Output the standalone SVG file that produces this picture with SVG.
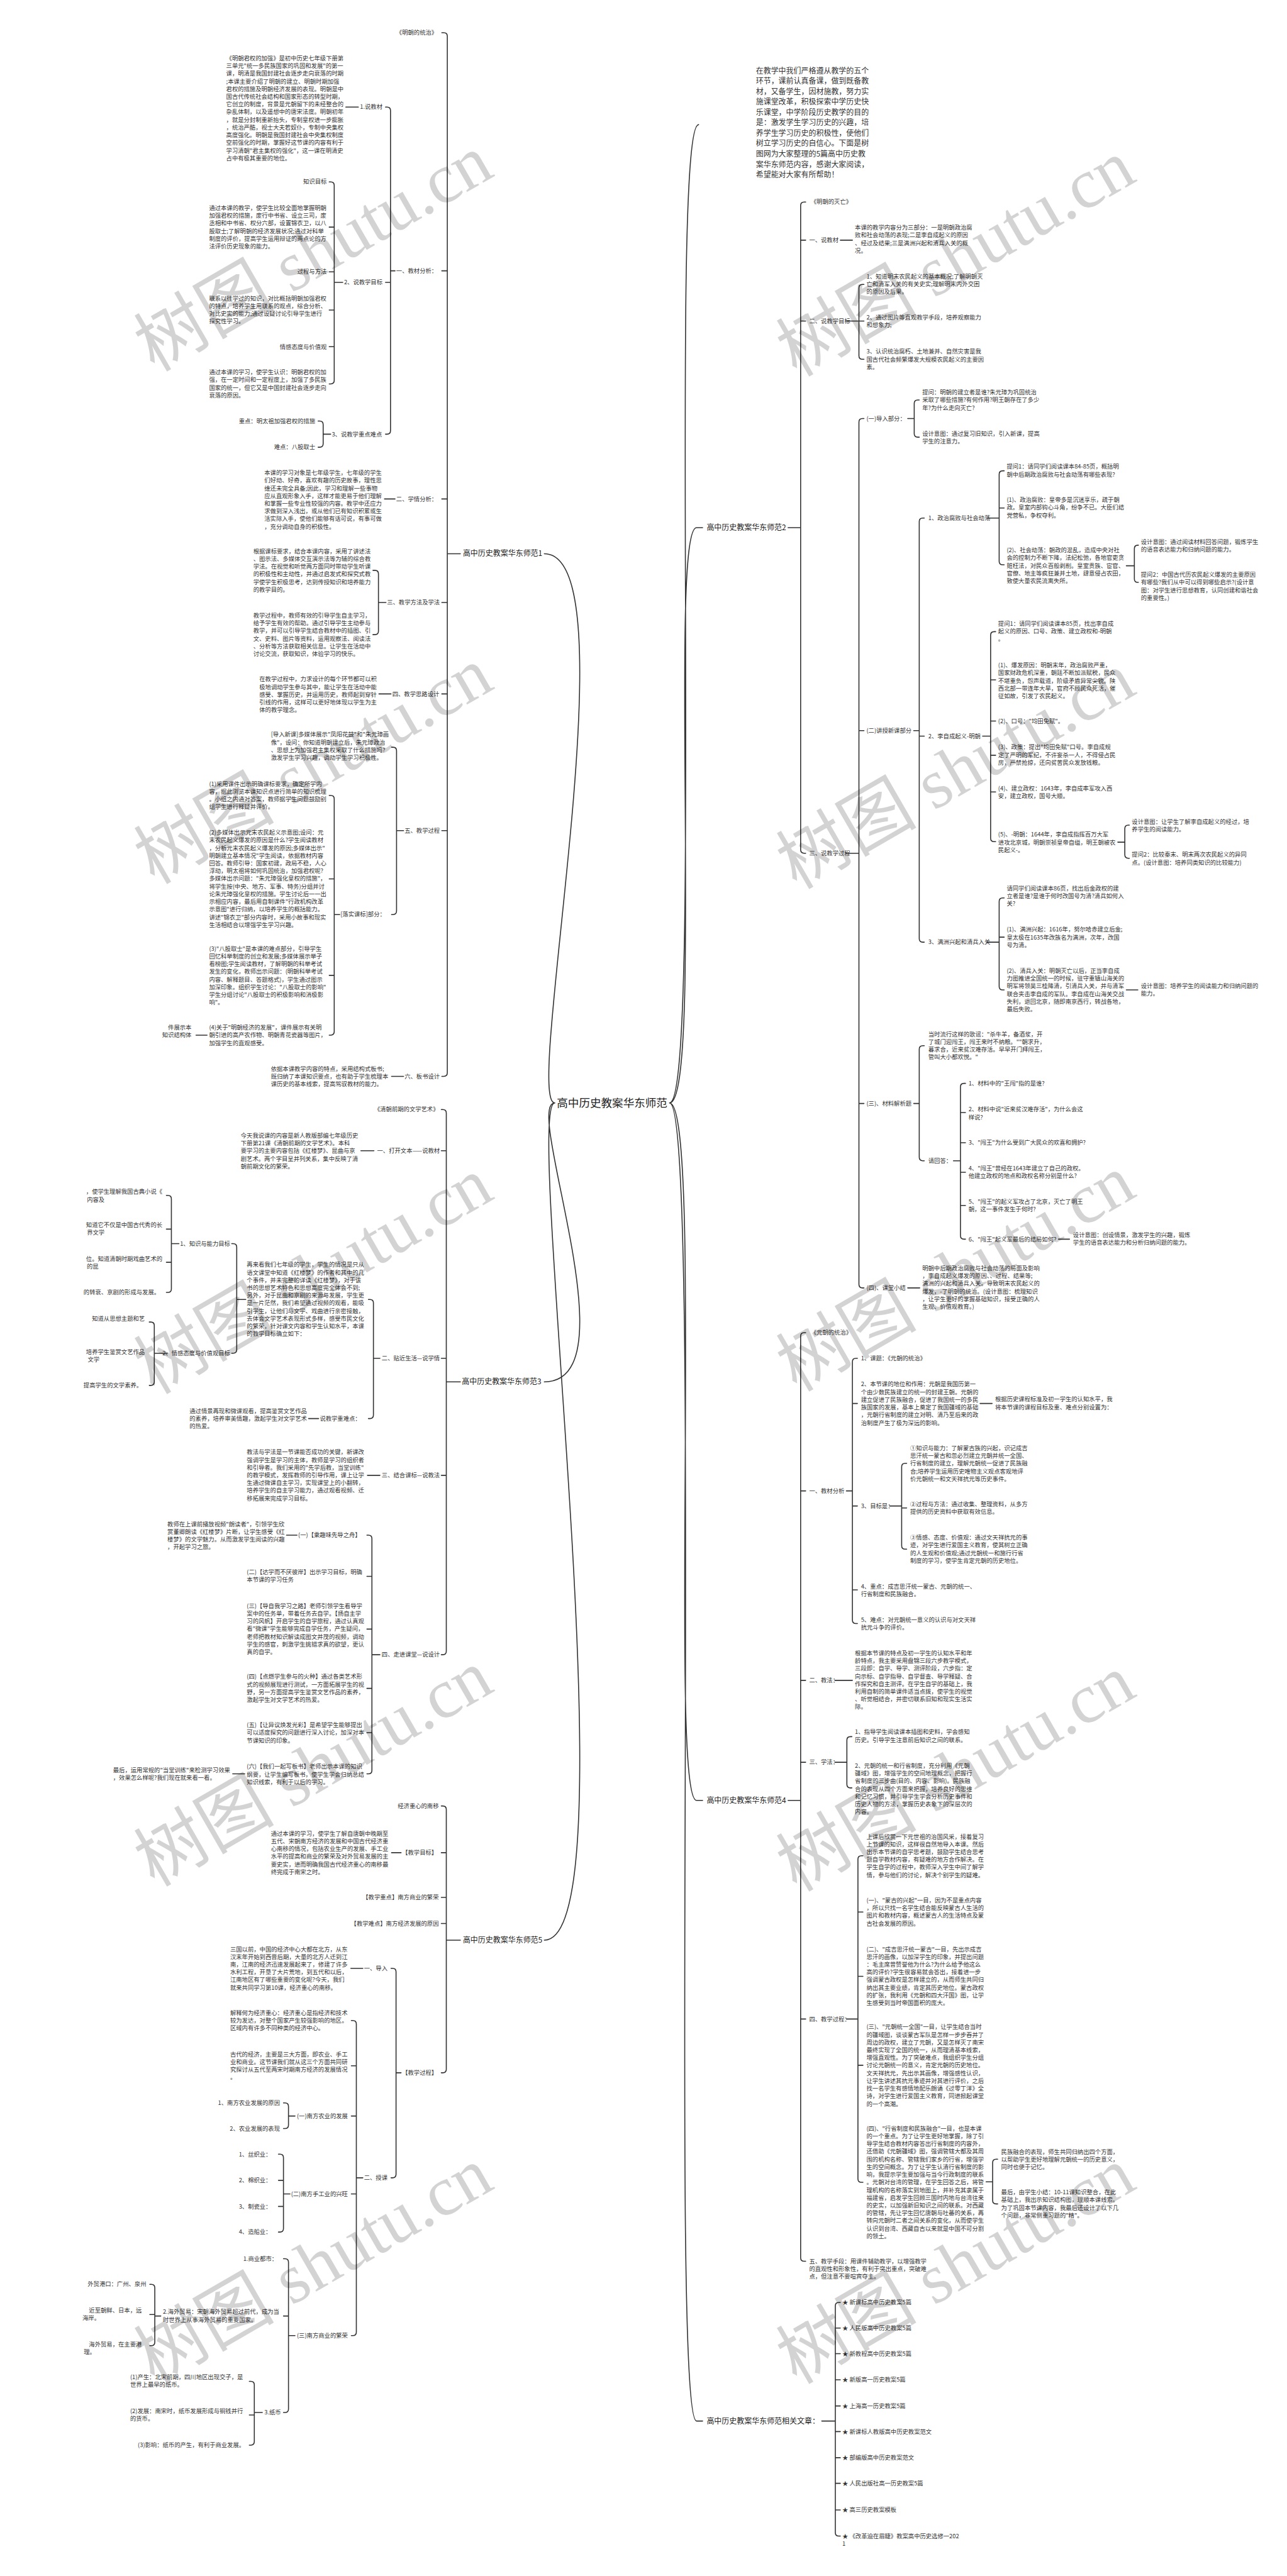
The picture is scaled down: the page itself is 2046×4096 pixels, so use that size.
<svg xmlns="http://www.w3.org/2000/svg" width="2046" height="4096" viewBox="0 0 2046 4096">
<style>
text{font-family:"Noto Sans CJK SC","Noto Sans",sans-serif;font-size:11.7px;fill:#333}
.e{text-anchor:end}
.b{font-size:15px;fill:#222}
.c{font-size:22px;fill:#222}
.p{font-size:15px}
.l{fill:none;stroke:#333;stroke-width:2;stroke-linecap:round}
.w{font-family:"Liberation Serif","Noto Sans CJK SC",serif;font-size:140px;fill:#000;opacity:.17}
</style>
<rect width="2046" height="4096" fill="#fff"/>
<g transform="scale(0.799)">
<g id="connectors" class="l">
<path d="M1083,1102C1260,1102 1040,2195 1104,2195M1083,2750C1260,2750 1040,2195 1104,2195M1083,3861C1260,3861 1040,2195 1104,2195"/>
<path d="M1332,2195C1400,2195 1330,248 1390,248M1332,2195C1400,2195 1330,1050 1386,1050H1398M1332,2195C1400,2195 1330,3583 1386,3583H1398M1332,2195C1400,2195 1330,4818 1386,4818H1398"/>
<path d="M879,65H883Q890,65 890,72V2135Q890,2142 883,2142H879M890,539H879M890,993H879M890,1199H879M890,1381H879M890,1653H879M890,1102H916"/>
<path d="M767,213H770Q777,213 777,220V857Q777,864 770,864H767M777,562H767M777,539H786"/>
<path d="M713,213H688"/>
<path d="M655,362H658Q665,362 665,369V757Q665,764 658,764H655M665,452H655M665,541H655M665,617H655M665,690H655M665,562H682"/>
<path d="M633,838H636Q643,838 643,845V883Q643,890 636,890H633M643,864H658"/>
<path d="M786,993H765M778,1381H754M803,2142H779"/>
<path d="M742,1135H746Q753,1135 753,1142V1256Q753,1263 746,1263H742M753,1199H768"/>
<path d="M779,1487H782Q789,1487 789,1494V1813Q789,1820 782,1820H779M789,1653H803"/>
<path d="M655,1583H658Q665,1583 665,1590V2053Q665,2060 658,2060H655M665,1749H655M665,1941H655M665,1820H676"/>
<path d="M412,2060H390"/>
<path d="M878,2208H881Q888,2208 888,2215V3286Q888,3293 881,3293H878M888,2290H878M888,2703H878M888,2936H878M888,2750H916"/>
<path d="M744,2290H718M634,2823H614M756,2936H731M591,3055H570M487,3530H463"/>
<path d="M733,2586H736Q743,2586 743,2593V2816Q743,2823 736,2823H733M743,2703H756"/>
<path d="M461,2475H464Q471,2475 471,2482V2686Q471,2693 464,2693H461M471,2586H489"/>
<path d="M331,2379H334Q341,2379 341,2386V2565Q341,2572 334,2572H331M341,2446H331M341,2512H331M341,2475H356"/>
<path d="M297,2631H300Q307,2631 307,2638V2750Q307,2757 300,2757H297M307,2693H333"/>
<path d="M730,3055H733Q740,3055 740,3062V3523Q740,3530 733,3530H730M740,3137H730M740,3242H730M740,3360H730M740,3448H730M740,3293H756"/>
<path d="M878,3594H881Q888,3594 888,3601V4118Q888,4125 881,4125H878M888,3687H878M888,3776H878M888,3828H878M888,3861H916"/>
<path d="M798,3687H779M722,3917H698"/>
<path d="M778,3917H781Q788,3917 788,3924V4327Q788,4334 781,4334H778M788,4125H798"/>
<path d="M699,4021H702Q709,4021 709,4028V4641Q709,4648 702,4648H699M709,4111H699M709,4211H699M709,4366H699M709,4334H722"/>
<path d="M564,4185H567Q574,4185 574,4192V4229Q574,4236 567,4236H564M574,4211H587"/>
<path d="M554,4287H557Q564,4287 564,4294V4435Q564,4442 557,4442H554M564,4339H554M564,4391H554M564,4366H577"/>
<path d="M564,4495H567Q574,4495 574,4502V4794Q574,4801 567,4801H564M574,4609H564M574,4648H587"/>
<path d="M298,4546H301Q308,4546 308,4553V4661Q308,4668 301,4668H298M308,4606H298M308,4609H320"/>
<path d="M496,4739H499Q506,4739 506,4746V4859Q506,4866 499,4866H496M506,4806H496M506,4801H522"/>
<path d="M1603,402H1600Q1593,402 1593,409V1691Q1593,1698 1600,1698H1603M1593,478H1603M1593,639H1603M1568,1050H1593"/>
<path d="M1672,478H1696M2241,1970H2264M2106,2466H2128M1806,2563H1830"/>
<path d="M1719,566H1716Q1709,566 1709,573V708Q1709,715 1716,715H1719M1709,639H1719M1684,639H1709"/>
<path d="M1719,833H1716Q1709,833 1709,840V2556Q1709,2563 1716,2563H1719M1709,1454H1719M1709,2196H1719M1684,1698H1709"/>
<path d="M1829,796H1826Q1819,796 1819,803V863Q1819,870 1826,870H1829M1806,833H1819"/>
<path d="M1839,1031H1836Q1829,1031 1829,1038V1868Q1829,1875 1836,1875H1839M1829,1465H1839M1818,1454H1829"/>
<path d="M1998,937H1995Q1988,937 1988,944V1117Q1988,1124 1995,1124H1998M1988,1011H1998M1963,1031H1988"/>
<path d="M2265,1085H2264Q2257,1085 2257,1092V1152Q2257,1159 2264,1159H2265M2241,1126H2257"/>
<path d="M1981,1257H1978Q1971,1257 1971,1264V1668Q1971,1675 1978,1675H1981M1971,1353H1981M1971,1435H1981M1971,1503H1981M1971,1576H1981M1955,1465H1971"/>
<path d="M2247,1642H2245Q2238,1642 2238,1649V1701Q2238,1708 2245,1708H2247M2224,1676H2238"/>
<path d="M1998,1787H1995Q1988,1787 1988,1794V1963Q1988,1970 1995,1970H1998M1988,1865H1998M1963,1875H1988"/>
<path d="M1839,2081H1836Q1829,2081 1829,2088V2303Q1829,2310 1836,2310H1839M1818,2196H1829"/>
<path d="M1921,2156H1918Q1911,2156 1911,2163V2459Q1911,2466 1918,2466H1921M1911,2214H1921M1911,2274H1921M1911,2333H1921M1911,2399H1921M1897,2310H1911"/>
<path d="M1603,2652H1600Q1593,2652 1593,2659V4493Q1593,4500 1600,4500H1603M1593,2967H1603M1593,3344H1603M1593,3507H1603M1593,4018H1603M1568,3583H1593"/>
<path d="M1706,2703H1703Q1696,2703 1696,2710V3224Q1696,3231 1703,3231H1706M1696,2793H1706M1696,2997H1706M1696,3164H1706M1684,2967H1696"/>
<path d="M1950,2793H1974M1661,3344H1696"/>
<path d="M1804,2912H1801Q1794,2912 1794,2919V3076Q1794,3083 1801,3083H1804M1794,3001H1804M1770,2997H1794"/>
<path d="M1695,3456H1692Q1685,3456 1685,3463V3551Q1685,3558 1692,3558H1695M1661,3507H1685"/>
<path d="M1717,3693H1714Q1707,3693 1707,3700V4336Q1707,4343 1714,4343H1717M1707,3805H1717M1707,3933H1717M1707,4110H1717M1684,4018H1707"/>
<path d="M1985,4297H1982Q1975,4297 1975,4304V4379Q1975,4386 1982,4386H1985M1962,4342H1975"/>
<path d="M1672,4582H1669Q1662,4582 1662,4589V5040Q1662,5047 1669,5047H1672M1662,4633H1672M1662,4684H1672M1662,4736H1672M1662,4788H1672M1662,4839H1672M1662,4891H1672M1662,4942H1672M1662,4995H1672M1635,4818H1662"/>
</g>

<g id="center"><text class="c" x="1108" y="2203">高中历史教案华东师范</text></g>
<g id="intro"><text class="p" x="1504" y="146"><tspan>在教学中我们严格遵从教学的五个</tspan><tspan x="1504" dy="20.7">环节，课前认真备课，做到既备教</tspan><tspan x="1504" dy="20.7">材，又备学生，因材施教，努力实</tspan><tspan x="1504" dy="20.7">施课堂改革，积极探索中学历史快</tspan><tspan x="1504" dy="20.7">乐课堂，中学阶段历史教学的目的</tspan><tspan x="1504" dy="20.7">是：激发学生学习历史的兴趣，培</tspan><tspan x="1504" dy="20.7">养学生学习历史的积极性，使他们</tspan><tspan x="1504" dy="20.7">树立学习历史的自信心。下面是树</tspan><tspan x="1504" dy="20.7">图网为大家整理的5篇高中历史教</tspan><tspan x="1504" dy="20.7">案华东师范内容，感谢大家阅读，</tspan><tspan x="1504" dy="20.7">希望能对大家有所帮助！</tspan></text></g>

<!-- Branch 1 -->
<g id="b1"><text class="b" x="921" y="1107">高中历史教案华东师范1</text></g>
<g id="b1-0"><text class="e" x="870" y="69">《明朝的统治》</text></g>
<g id="b1-1"><text class="e" x="870" y="543">一、教材分析：</text></g>
<g id="b1-1-1"><text class="e" x="761" y="217">1.说教材</text></g>
<g id="b1-1-1-p"><text x="450" y="120"><tspan>《明朝君权的加强》是初中历史七年级下册第</tspan><tspan x="450" dy="15.3">三单元"统一多民族国家的巩固和发展"的第一</tspan><tspan x="450" dy="15.3">课，明清是我国封建社会逐步走向衰落的时期</tspan><tspan x="450" dy="15.3">;本课主要介绍了明朝的建立、明朝时期加强</tspan><tspan x="450" dy="15.3">君权的措施及明朝经济发展的表现。明朝是中</tspan><tspan x="450" dy="15.3">国古代传统社会结构和国家形态的转型时期，</tspan><tspan x="450" dy="15.3">它创立的制度，背景是元朝留下的未经整合的</tspan><tspan x="450" dy="15.3">杂乱体制，以及遥想中的唐宋法度。明朝初年</tspan><tspan x="450" dy="15.3">，就是分封制重新抬头，专制皇权进一步膨胀</tspan><tspan x="450" dy="15.3">，统治严酷，视士大夫若奴仆，专制中央集权</tspan><tspan x="450" dy="15.3">高度强化。明朝是我国封建社会中央集权制度</tspan><tspan x="450" dy="15.3">空前强化的时期，掌握好这节课的内容有利于</tspan><tspan x="450" dy="15.3">学习清朝"君主集权的强化"，这一课在明清史</tspan><tspan x="450" dy="15.3">占中有极其重要的地位。</tspan></text></g>
<g id="b1-1-2"><text class="e" x="761" y="566">2、说教学目标</text></g>
<g id="b1-1-2-a"><text class="e" x="650" y="366">知识目标</text></g>
<g id="b1-1-2-b"><text x="416" y="418"><tspan>通过本课的教学，使学生比较全面地掌握明朝</tspan><tspan x="416" dy="15.3">加强君权的措施，废行中书省、设立三司，废</tspan><tspan x="416" dy="15.3">丞相和中书省、权分六部，设置锦衣卫，以八</tspan><tspan x="416" dy="15.3">股取士;了解明朝的经济发展状况;通过对科举</tspan><tspan x="416" dy="15.3">制度的评价，提高学生运用辩证的两点论的方</tspan><tspan x="416" dy="15.3">法评价历史现象的能力。</tspan></text></g>
<g id="b1-1-2-c"><text class="e" x="650" y="545">过程与方法</text></g>
<g id="b1-1-2-d"><text x="416" y="598"><tspan>联系以往学过的知识，对比概括明朝加强君权</tspan><tspan x="416" dy="15.3">的特点，培养学生用联系的观点，综合分析、</tspan><tspan x="416" dy="15.3">对比史实的能力;通过设疑讨论引导学生进行</tspan><tspan x="416" dy="15.3">探究性学习。</tspan></text></g>
<g id="b1-1-2-e"><text class="e" x="650" y="694">情感态度与价值观</text></g>
<g id="b1-1-2-f"><text x="416" y="745"><tspan>通过本课的学习，使学生认识：明朝君权的加</tspan><tspan x="416" dy="15.3">强，在一定时间和一定程度上，加强了多民族</tspan><tspan x="416" dy="15.3">国家的统一，但它又是中国封建社会逐步走向</tspan><tspan x="416" dy="15.3">衰落的原因。</tspan></text></g>
<g id="b1-1-3"><text class="e" x="760" y="868">3、说教学重点难点</text></g>
<g id="b1-1-3-a"><text class="e" x="627" y="842">重点：明太祖加强君权的措施</text></g>
<g id="b1-1-3-b"><text class="e" x="627" y="894">难点：八股取士</text></g>
<g id="b1-2"><text class="e" x="870" y="997">二、学情分析：</text></g>
<g id="b1-2-p"><text x="526" y="945"><tspan>本课的学习对象是七年级学生，七年级的学生</tspan><tspan x="526" dy="15.3">们好动、好奇，喜欢有趣的历史故事，理性思</tspan><tspan x="526" dy="15.3">维还未完全具备;因此，学习和理解一些事物</tspan><tspan x="526" dy="15.3">应从直观形象入手，这样才能更易于他们理解</tspan><tspan x="526" dy="15.3">和掌握一些专业性较强的内容。教学中还应力</tspan><tspan x="526" dy="15.3">求做到深入浅出，或从他们已有知识积累或生</tspan><tspan x="526" dy="15.3">活实际入手，使他们能够有话可说，有事可做</tspan><tspan x="526" dy="15.3">，充分调动自身的积极性。</tspan></text></g>
<g id="b1-3"><text class="e" x="875" y="1203">三、教学方法及学法</text></g>
<g id="b1-3-a"><text x="504" y="1101"><tspan>根据课标要求，结合本课内容，采用了讲述法</tspan><tspan x="504" dy="15.3">、图示法、多媒体交互演示法等为辅的综合教</tspan><tspan x="504" dy="15.3">学法。在视觉和听觉两方面同时带动学生听课</tspan><tspan x="504" dy="15.3">的积极性和主动性，并通过启发式和探究式教</tspan><tspan x="504" dy="15.3">学使学生积极思考，达到传授知识和培养能力</tspan><tspan x="504" dy="15.3">的教学目的。</tspan></text></g>
<g id="b1-3-b"><text x="504" y="1229"><tspan>教学过程中，教师有效的引导学生自主学习，</tspan><tspan x="504" dy="15.3">给予学生有效的帮助。通过引导学生主动参与</tspan><tspan x="504" dy="15.3">教学，并可以引导学生结合教材中的插图、引</tspan><tspan x="504" dy="15.3">文、史料、图片等资料，运用观察法、阅读法</tspan><tspan x="504" dy="15.3">、分析等方法获取相关信息。让学生在活动中</tspan><tspan x="504" dy="15.3">讨论交流，获取知识，体验学习的快乐。</tspan></text></g>
<g id="b1-4"><text class="e" x="874" y="1385">四、教学思路设计</text></g>
<g id="b1-4-p"><text x="516" y="1356"><tspan>在教学过程中，力求设计的每个环节都可以积</tspan><tspan x="516" dy="15.3">极地调动学生参与其中，能让学生在活动中能</tspan><tspan x="516" dy="15.3">感受、掌握历史，并运用历史，教师起到穿针</tspan><tspan x="516" dy="15.3">引线的作用，这样可以更好地体现以学生为主</tspan><tspan x="516" dy="15.3">体的教学理念。</tspan></text></g>
<g id="b1-5"><text class="e" x="875" y="1657">五、教学过程</text></g>
<g id="b1-5-a"><text x="539" y="1466"><tspan>[导入新课]多媒体展示"凤阳花鼓"和"朱元璋画</tspan><tspan x="539" dy="15.3">像"，设问：你知道明朝建立后，朱元璋政治</tspan><tspan x="539" dy="15.3">、思想上为加强君主集权采取了什么措施吗?</tspan><tspan x="539" dy="15.3">激发学生学习兴趣，调动学生学习积极性。</tspan></text></g>
<g id="b1-5-b"><text class="e" x="767" y="1824">[落实课标]部分：</text></g>
<g id="b1-5-b1"><text x="416" y="1564"><tspan>(1)采用课件出示明确课标要求，确定所学内</tspan><tspan x="416" dy="15.3">容，据此浏览本课知识点进行简单的知识梳理</tspan><tspan x="416" dy="15.3">。小组之内通对答案，教师据学生问题鼓励别</tspan><tspan x="416" dy="15.3">组学生进行释疑并评价。</tspan></text></g>
<g id="b1-5-b2"><text x="416" y="1661"><tspan>(2)多媒体出示元末农民起义示意图;设问：元</tspan><tspan x="416" dy="15.3">末农民起义爆发的原因是什么?学生阅读教材</tspan><tspan x="416" dy="15.3">，分析元末农民起义爆发的原因;多媒体出示"</tspan><tspan x="416" dy="15.3">明朝建立基本情况"学生阅读，依据教材内容</tspan><tspan x="416" dy="15.3">回答。教师引导：国家初建，政局不稳，人心</tspan><tspan x="416" dy="15.3">浮动，明太祖将如何巩固统治，加强君权呢?</tspan><tspan x="416" dy="15.3">多媒体出示问题："朱元璋强化皇权的措施"，</tspan><tspan x="416" dy="15.3">将学生按(中央、地方、军事、特务)分组并讨</tspan><tspan x="416" dy="15.3">论朱元璋强化皇权的措施。学生讨论后一一出</tspan><tspan x="416" dy="15.3">示相应内容，最后用自制课件"行政机构改革</tspan><tspan x="416" dy="15.3">示意图"进行归纳，以培养学生的概括能力。</tspan><tspan x="416" dy="15.3">讲述"锦衣卫"部分内容时，采用小故事和现实</tspan><tspan x="416" dy="15.3">生活相结合以增强学生学习兴趣。</tspan></text></g>
<g id="b1-5-b3"><text x="416" y="1892"><tspan>(3)"八股取士"是本课的难点部分，引导学生</tspan><tspan x="416" dy="15.3">回忆科举制度的创立和发展;多媒体展示举子</tspan><tspan x="416" dy="15.3">看榜图;学生阅读教材，了解明朝的科举考试</tspan><tspan x="416" dy="15.3">发生的变化，教师出示问题：(明朝科举考试</tspan><tspan x="416" dy="15.3">内容、解释题目、答题格式)，学生通过图示</tspan><tspan x="416" dy="15.3">加深印象。组织学生讨论："八股取士的影响"</tspan><tspan x="416" dy="15.3">学生分组讨论"八股取士的积极影响和消极影</tspan><tspan x="416" dy="15.3">响"。</tspan></text></g>
<g id="b1-5-b4"><text x="416" y="2049"><tspan>(4)关于"明朝经济的发展"，课件展示有关明</tspan><tspan x="416" dy="15.3">朝引进的高产农作物、明朝青花瓷器等图片，</tspan><tspan x="416" dy="15.3">加强学生的直观感受。</tspan></text></g>
<g id="b1-5-b4-a"><text class="e" x="381" y="2049"><tspan>件展示本</tspan><tspan x="381" dy="15.3">知识结构体</tspan></text></g>
<g id="b1-6"><text class="e" x="875" y="2146">六、板书设计</text></g>
<g id="b1-6-p"><text x="539" y="2131"><tspan>依据本课教学内容的特点，采用结构式板书;</tspan><tspan x="539" dy="15.3">既归纳了本课知识要点，也有助于学生梳理本</tspan><tspan x="539" dy="15.3">课历史的基本线索，提高驾驭教材的能力。</tspan></text></g>

<!-- Branch 3 -->
<g id="b3"><text class="b" x="919" y="2755">高中历史教案华东师范3</text></g>
<g id="b3-0"><text class="e" x="873" y="2212">《清朝前期的文学艺术》</text></g>
<g id="b3-1"><text class="e" x="875" y="2294">一、打开文本——说教材</text></g>
<g id="b3-1-p"><text x="479" y="2264"><tspan>今天我说课的内容是新人教版部编七年级历史</tspan><tspan x="479" dy="15.3">下册第21课《清朝前期的文学艺术》。本科</tspan><tspan x="479" dy="15.3">要学习的主要内容包括《红楼梦》、昆曲与京</tspan><tspan x="479" dy="15.3">剧艺术。两个字目呈并列关系，集中反映了清</tspan><tspan x="479" dy="15.3">朝前期文化的繁荣。</tspan></text></g>
<g id="b3-2"><text class="e" x="875" y="2707">二、贴近生活—说学情</text></g>
<g id="b3-2-p"><text x="491" y="2521"><tspan>再来看我们七年级的学生，学生的情况是只从</tspan><tspan x="491" dy="15.3">语文课堂中知道《红楼梦》的作者和其中的几</tspan><tspan x="491" dy="15.3">个事件，并未完整的详读《红楼梦》，对于该</tspan><tspan x="491" dy="15.3">书的思想艺术特色和思想高度完全体会不到;</tspan><tspan x="491" dy="15.3">另外，对于昆曲和京剧的来源与发展，学生更</tspan><tspan x="491" dy="15.3">是一片茫然，我们希望通过视频的观看，能吸</tspan><tspan x="491" dy="15.3">引学生，让他们与文学、戏曲进行亲密接触，</tspan><tspan x="491" dy="15.3">去体会文学艺术表现形式多样，感受市民文化</tspan><tspan x="491" dy="15.3">的繁荣。针对课文内容和学生认知水平，本课</tspan><tspan x="491" dy="15.3">的教学目标确立如下：</tspan></text></g>
<g id="b3-2-g1"><text class="e" x="458" y="2479">1、知识与能力目标</text></g>
<g id="b3-2-g1-a"><text class="e" x="323" y="2376"><tspan>，使学生理解我国古典小说《</tspan><tspan x="208" dy="15.3">内容及</tspan></text></g>
<g id="b3-2-g1-b"><text class="e" x="323" y="2442"><tspan>知道它不仅是中国古代秀的长</tspan><tspan x="208" dy="15.3">界文学</tspan></text></g>
<g id="b3-2-g1-c"><text class="e" x="323" y="2509"><tspan>位。知道清朝时期戏曲艺术的</tspan><tspan x="196" dy="15.3">的昆</tspan></text></g>
<g id="b3-2-g1-d"><text class="e" x="318" y="2576">的转衰、京剧的形成与发展。</text></g>
<g id="b3-2-g2"><text class="e" x="458" y="2697">2、情感态度与价值观目标</text></g>
<g id="b3-2-g2-a"><text class="e" x="288" y="2628">知道从思想主题和艺</text></g>
<g id="b3-2-g2-b"><text class="e" x="288" y="2694"><tspan>培养学生鉴赏文艺作品</tspan><tspan x="198" dy="15.3">文学</tspan></text></g>
<g id="b3-2-g2-c"><text class="e" x="283" y="2761">提高学生的文学素养。</text></g>
<g id="b3-2-k"><text class="e" x="718" y="2827">说教学重难点：</text></g>
<g id="b3-2-k-p"><text x="377" y="2812"><tspan>通过情景再现和微课观看，提高鉴赏文艺作品</tspan><tspan x="377" dy="15.3">的素养，培养审美情趣，激起学生对文学艺术</tspan><tspan x="377" dy="15.3">的热爱。</tspan></text></g>
<g id="b3-3"><text class="e" x="875" y="2940">三、结合课标—说教法</text></g>
<g id="b3-3-p"><text x="491" y="2894"><tspan>教法与学法是一节课能否成功的关键，新课改</tspan><tspan x="491" dy="15.3">强调学生是学习的主体，教师是学习的组织者</tspan><tspan x="491" dy="15.3">和引导者。我们采用的"先学后教，当堂训练"</tspan><tspan x="491" dy="15.3">的教学模式，发挥教师的引导作用，课上让学</tspan><tspan x="491" dy="15.3">生通过微课自主学习，实现课堂上的小翻转，</tspan><tspan x="491" dy="15.3">培养学生的自主学习能力，通过观看视频、迁</tspan><tspan x="491" dy="15.3">移拓展来完成学习目标。</tspan></text></g>
<g id="b3-4"><text class="e" x="875" y="3297">四、走进课堂—说设计</text></g>
<g id="b3-4-1"><text class="e" x="718" y="3059">(一)【乘趣味先导之舟】</text></g>
<g id="b3-4-1-p"><text x="333" y="3037"><tspan>教师在上课前播放视频"朗读者"，引领学生欣</tspan><tspan x="333" dy="15.3">赏董卿朗读《红楼梦》片断，让学生感受《红</tspan><tspan x="333" dy="15.3">楼梦》的文学魅力。从而激发学生阅读的兴趣</tspan><tspan x="333" dy="15.3">，开起学习之旅。</tspan></text></g>
<g id="b3-4-2"><text x="491" y="3133"><tspan>(二)【达学而不厌彼岸】出示学习目标，明确</tspan><tspan x="491" dy="15.3">本节课的学习任务</tspan></text></g>
<g id="b3-4-3"><text x="491" y="3200"><tspan>(三)【导自我学习之路】老师引领学生看导学</tspan><tspan x="491" dy="15.3">案中的任务单，带着任务去自学。【扬自主学</tspan><tspan x="491" dy="15.3">习的风帆】开启学生的自学旅程，通过认真观</tspan><tspan x="491" dy="15.3">看"微课"学生能够完成自学任务，产生疑问，</tspan><tspan x="491" dy="15.3">老师把教材知识解读成图文并茂的视频，调动</tspan><tspan x="491" dy="15.3">学生的感官，刺激学生挑错求真的欲望，更认</tspan><tspan x="491" dy="15.3">真的自学。</tspan></text></g>
<g id="b3-4-4"><text x="491" y="3341"><tspan>(四)【点燃学生参与的火种】通过各类艺术形</tspan><tspan x="491" dy="15.3">式的视频展现进行测试，一方面拓展学生的视</tspan><tspan x="491" dy="15.3">野，另一方面提高学生鉴赏文艺作品的素养，</tspan><tspan x="491" dy="15.3">激起学生对文学艺术的热爱。</tspan></text></g>
<g id="b3-4-5"><text x="491" y="3437"><tspan>(五)【让异议焕发光彩】是希望学生能够提出</tspan><tspan x="491" dy="15.3">可以适度探究的问题进行深入讨论，加深对本</tspan><tspan x="491" dy="15.3">节课知识的印象。</tspan></text></g>
<g id="b3-4-6"><text x="491" y="3520"><tspan>(六)【我们一起写板书】老师出示本课的知识</tspan><tspan x="491" dy="15.3">纲要，让学生编写板书，使学生学会归纳总结</tspan><tspan x="491" dy="15.3">知识线索，有利于以后的学习。</tspan></text></g>
<g id="b3-4-6-a"><text x="225" y="3527"><tspan>最后，运用常规的"当堂训练"来检测学习效果</tspan><tspan x="225" dy="15.3">，效果怎么样呢?我们现在就来看一看。</tspan></text></g>

<!-- Branch 5 -->
<g id="b5"><text class="b" x="921" y="3866">高中历史教案华东师范5</text></g>
<g id="b5-0"><text class="e" x="873" y="3598">经济重心的南移</text></g>
<g id="b5-1"><text class="e" x="870" y="3691">【教学目标】</text></g>
<g id="b5-1-p"><text x="539" y="3653"><tspan>通过本课的学习，使学生了解自唐朝中晚期至</tspan><tspan x="539" dy="15.3">五代、宋朝南方经济的发展和中国古代经济重</tspan><tspan x="539" dy="15.3">心南移的情况，包括农业生产的发展、手工业</tspan><tspan x="539" dy="15.3">水平的提高和商业的繁荣及对外贸易发展的主</tspan><tspan x="539" dy="15.3">要史实，进而明确我国古代经济重心的南移最</tspan><tspan x="539" dy="15.3">终完成于南宋之时。</tspan></text></g>
<g id="b5-2"><text class="e" x="873" y="3780">【教学重点】南方商业的繁荣</text></g>
<g id="b5-3"><text class="e" x="873" y="3832">【教学难点】南方经济发展的原因</text></g>
<g id="b5-4"><text class="e" x="870" y="4129">【教学过程】</text></g>
<g id="b5-4-1"><text class="e" x="771" y="3921">一、导入</text></g>
<g id="b5-4-1-p"><text x="458" y="3883"><tspan>三国以前，中国的经济中心大都在北方，从东</tspan><tspan x="458" dy="15.3">汉末年开始到西晋后期，大量的北方人迁到江</tspan><tspan x="458" dy="15.3">南，江南的经济迅速发展起来了，修建了许多</tspan><tspan x="458" dy="15.3">水利工程，开垦了大片荒地，到五代和以后，</tspan><tspan x="458" dy="15.3">江南地区有了哪些重要的变化呢?今天，我们</tspan><tspan x="458" dy="15.3">就来共同学习第10课，经济重心的南移。</tspan></text></g>
<g id="b5-4-2"><text class="e" x="771" y="4338">二、授课</text></g>
<g id="b5-4-2-a"><text x="458" y="4010"><tspan>解释何为经济重心：经济重心是指经济和技术</tspan><tspan x="458" dy="15.3">较为发达，对整个国家产生较强影响的地区。</tspan><tspan x="458" dy="15.3">区域内有许多不同种类的经济中心。</tspan></text></g>
<g id="b5-4-2-b"><text x="458" y="4092"><tspan>古代的经济，主要是三大方面，即农业、手工</tspan><tspan x="458" dy="15.3">业和商业。这节课我们就从这三个方面共同研</tspan><tspan x="458" dy="15.3">究探讨从五代至两宋时期南方经济的发展情况</tspan><tspan x="458" dy="15.3">。</tspan></text></g>
<g id="b5-4-2-c"><text class="e" x="692" y="4215">(一)南方农业的发展</text></g>
<g id="b5-4-2-c1"><text class="e" x="557" y="4189">1、南方农业发展的原因</text></g>
<g id="b5-4-2-c2"><text class="e" x="557" y="4240">2、农业发展的表现</text></g>
<g id="b5-4-2-d"><text class="e" x="692" y="4370">(二)南方手工业的兴旺</text></g>
<g id="b5-4-2-d1"><text class="e" x="540" y="4291">1、丝织业：</text></g>
<g id="b5-4-2-d2"><text class="e" x="540" y="4343">2、棉织业：</text></g>
<g id="b5-4-2-d3"><text class="e" x="540" y="4395">3、制瓷业：</text></g>
<g id="b5-4-2-d4"><text class="e" x="540" y="4446">4、造船业：</text></g>
<g id="b5-4-2-e"><text class="e" x="692" y="4652">(三)南方商业的繁荣</text></g>
<g id="b5-4-2-e1"><text class="e" x="552" y="4499">1.商业都市：</text></g>
<g id="b5-4-2-e2"><text x="324" y="4605"><tspan>2.海外贸易：宋朝海外贸易超过前代，成为当</tspan><tspan x="324" dy="15.3">时世界上从事海外贸易的重要国家。</tspan></text></g>
<g id="b5-4-2-e2a"><text class="e" x="291" y="4550">外贸港口：广州、泉州</text></g>
<g id="b5-4-2-e2b"><text class="e" x="282" y="4602"><tspan>近至朝鲜、日本，远</tspan><tspan x="199" dy="15.3">海岸。</tspan></text></g>
<g id="b5-4-2-e2c"><text class="e" x="282" y="4669"><tspan>海外贸易，在主要港</tspan><tspan x="190" dy="15.3">理。</tspan></text></g>
<g id="b5-4-2-e3"><text class="e" x="559" y="4805">3.纸币</text></g>
<g id="b5-4-2-e3a"><text x="259" y="4735"><tspan>(1)产生：北宋前期，四川地区出现交子，是</tspan><tspan x="259" dy="15.3">世界上最早的纸币。</tspan></text></g>
<g id="b5-4-2-e3b"><text x="259" y="4802"><tspan>(2)发展：南宋时，纸币发展形成与铜钱并行</tspan><tspan x="259" dy="15.3">的货币。</tspan></text></g>
<g id="b5-4-2-e3c"><text class="e" x="487" y="4870">(3)影响：纸币的产生，有利于商业发展。</text></g>

<!-- Branch 2 -->
<g id="b2"><text class="b" x="1406" y="1055">高中历史教案华东师范2</text></g>
<g id="b2-0"><text x="1613" y="406">《明朝的灭亡》</text></g>
<g id="b2-1"><text x="1610" y="482">一、说教材</text></g>
<g id="b2-1-p"><text x="1701" y="457"><tspan>本课的教学内容分为三部分：一是明朝政治腐</tspan><tspan x="1701" dy="15.3">败和社会动荡的表现;二是李自成起义的原因</tspan><tspan x="1701" dy="15.3">、经过及结果;三是满洲兴起和清兵入关的概</tspan><tspan x="1701" dy="15.3">况。</tspan></text></g>
<g id="b2-2"><text x="1610" y="643">二、说教学目标</text></g>
<g id="b2-2-a"><text x="1724" y="554"><tspan>1、知道明末农民起义的基本概况;了解明朝灭</tspan><tspan x="1724" dy="15.3">亡和清军入关的有关史实;理解明末内外交困</tspan><tspan x="1724" dy="15.3">的原因及后果。</tspan></text></g>
<g id="b2-2-b"><text x="1724" y="636"><tspan>2、通过图片等直观教学手段，培养观察能力</tspan><tspan x="1724" dy="15.3">和想象力;</tspan></text></g>
<g id="b2-2-c"><text x="1724" y="704"><tspan>3、认识统治腐朽、土地兼并、自然灾害是我</tspan><tspan x="1724" dy="15.3">国古代社会频繁爆发大规模农民起义的主要因</tspan><tspan x="1724" dy="15.3">素。</tspan></text></g>
<g id="b2-3"><text x="1610" y="1702">三、说教学过程</text></g>
<g id="b2-3-1"><text x="1724" y="837">(一)导入部分：</text></g>
<g id="b2-3-1-a"><text x="1835" y="785"><tspan>提问：明朝的建立者是谁?朱元璋为巩固统治</tspan><tspan x="1835" dy="15.3">采取了哪些措施?有何作用?明王朝存在了多少</tspan><tspan x="1835" dy="15.3">年?为什么走向灭亡?</tspan></text></g>
<g id="b2-3-1-b"><text x="1835" y="867"><tspan>设计意图：通过复习旧知识，引入新课，提高</tspan><tspan x="1835" dy="15.3">学生的注意力。</tspan></text></g>
<g id="b2-3-2"><text x="1724" y="1458">(二)讲授新课部分</text></g>
<g id="b2-3-2-1"><text x="1847" y="1035">1、政治腐败与社会动荡</text></g>
<g id="b2-3-2-1a"><text x="2003" y="933"><tspan>提问1：请同学们阅读课本84-85页，概括明</tspan><tspan x="2003" dy="15.3">朝中后期政治腐败与社会动荡有哪些表现?</tspan></text></g>
<g id="b2-3-2-1b"><text x="2003" y="999"><tspan>(1)、政治腐败：皇帝多是沉迷享乐，疏于朝</tspan><tspan x="2003" dy="15.3">政。皇室内部钩心斗角，纷争不已。大臣们结</tspan><tspan x="2003" dy="15.3">党营私，争权夺利。</tspan></text></g>
<g id="b2-3-2-1c"><text x="2003" y="1099"><tspan>(2)、社会动荡：朝政的混乱，造成中央对社</tspan><tspan x="2003" dy="15.3">会的控制力不断下降，法纪松弛，各地官吏贪</tspan><tspan x="2003" dy="15.3">赃枉法，对民众百般剥削。皇室贵族、宦官、</tspan><tspan x="2003" dy="15.3">官僚、地主等疯狂兼并土地，肆意侵占农田，</tspan><tspan x="2003" dy="15.3">致使大量农民流离失所。</tspan></text></g>
<g id="b2-3-2-1c1"><text x="2270" y="1082"><tspan>设计意图：通过阅读材料回答问题，锻炼学生</tspan><tspan x="2270" dy="15.3">的语音表达能力和归纳问题的能力。</tspan></text></g>
<g id="b2-3-2-1c2"><text x="2270" y="1148"><tspan>提问2：中国古代历农民起义爆发的主要原因</tspan><tspan x="2270" dy="15.3">有哪些?我们从中可以得到哪些启示?(设计意</tspan><tspan x="2270" dy="15.3">图：对学生进行思想教育，认同创建和谐社会</tspan><tspan x="2270" dy="15.3">的重要性。)</tspan></text></g>
<g id="b2-3-2-2"><text x="1847" y="1469">2、李自成起义-明朝</text></g>
<g id="b2-3-2-2a"><text x="1986" y="1245"><tspan>提问1：请同学们阅读课本85页，找出李自成</tspan><tspan x="1986" dy="15.3">起义的原因、口号、政策、建立政权和-明朝</tspan><tspan x="1986" dy="15.3">。</tspan></text></g>
<g id="b2-3-2-2b"><text x="1986" y="1328"><tspan>(1)、爆发原因：明朝末年，政治腐败严重，</tspan><tspan x="1986" dy="15.3">国家财政危机深重，朝廷不断加派赋税，民众</tspan><tspan x="1986" dy="15.3">不堪重负，怨声载道，阶级矛盾异常尖锐。陕</tspan><tspan x="1986" dy="15.3">西北部一带连年大旱，官府不顾民众死活，催</tspan><tspan x="1986" dy="15.3">征如故，引发了农民起义。</tspan></text></g>
<g id="b2-3-2-2c"><text x="1986" y="1439">(2)、口号："均田免赋"。</text></g>
<g id="b2-3-2-2d"><text x="1986" y="1491"><tspan>(3)、政策：提出"均田免赋"口号。李自成规</tspan><tspan x="1986" dy="15.3">定了严明的军纪，不许妄杀一人，不得侵占民</tspan><tspan x="1986" dy="15.3">房，严禁抢掠，还向贫苦民众发放钱粮。</tspan></text></g>
<g id="b2-3-2-2e"><text x="1986" y="1573"><tspan>(4)、建立政权：1643年，李自成率军攻入西</tspan><tspan x="1986" dy="15.3">安，建立政权，国号大顺。</tspan></text></g>
<g id="b2-3-2-2f"><text x="1986" y="1665"><tspan>(5)、-明朝：1644年，李自成指挥百万大军</tspan><tspan x="1986" dy="15.3">进攻北京城，明朝崇祯皇帝自缢，明王朝被农</tspan><tspan x="1986" dy="15.3">民起义-。</tspan></text></g>
<g id="b2-3-2-2f1"><text x="2252" y="1639"><tspan>设计意图：让学生了解李自成起义的经过，培</tspan><tspan x="2252" dy="15.3">养学生的阅读能力。</tspan></text></g>
<g id="b2-3-2-2f2"><text x="2252" y="1705"><tspan>提问2：比较秦末、明末两次农民起义的异同</tspan><tspan x="2252" dy="15.3">点。(设计意图：培养同类知识的比较能力)</tspan></text></g>
<g id="b2-3-2-3"><text x="1847" y="1879">3、满洲兴起和清兵入关</text></g>
<g id="b2-3-2-3a"><text x="2003" y="1772"><tspan>请同学们阅读课本86页，找出后金政权的建</tspan><tspan x="2003" dy="15.3">立者是谁?是谁于何时改国号为清?清兵如何入</tspan><tspan x="2003" dy="15.3">关?</tspan></text></g>
<g id="b2-3-2-3b"><text x="2003" y="1854"><tspan>(1)、满洲兴起：1616年，努尔哈赤建立后金;</tspan><tspan x="2003" dy="15.3">皇太极在1635年改族名为满洲，次年，改国</tspan><tspan x="2003" dy="15.3">号为清。</tspan></text></g>
<g id="b2-3-2-3c"><text x="2003" y="1936"><tspan>(2)、清兵入关：明朝灭亡以后，正当李自成</tspan><tspan x="2003" dy="15.3">力图推进全国统一的时候，驻守重镇山海关的</tspan><tspan x="2003" dy="15.3">明军将领吴三桂降清，引清兵入关，并与清军</tspan><tspan x="2003" dy="15.3">联合夹击李自成的军队。李自成在山海关交战</tspan><tspan x="2003" dy="15.3">失利，退回北京，随即南京西行，转战各地，</tspan><tspan x="2003" dy="15.3">最后失败。</tspan></text></g>
<g id="b2-3-2-3c1"><text x="2270" y="1966"><tspan>设计意图：培养学生的阅读能力和归纳问题的</tspan><tspan x="2270" dy="15.3">能力。</tspan></text></g>
<g id="b2-3-3"><text x="1724" y="2200">(三)、材料解析题</text></g>
<g id="b2-3-3a"><text x="1847" y="2062"><tspan>当时流行这样的歌谣："杀牛羊，备酒浆，开</tspan><tspan x="1847" dy="15.3">了城门迎闯王，闯王来时不纳粮。""朝求升，</tspan><tspan x="1847" dy="15.3">暮求合，近来贫汉难存活。早早开门拜闯王，</tspan><tspan x="1847" dy="15.3">管叫大小都欢悦。"</tspan></text></g>
<g id="b2-3-3b"><text x="1847" y="2314">请回答：</text></g>
<g id="b2-3-3b1"><text x="1927" y="2160">1、材料中的"王闯"指的是谁?</text></g>
<g id="b2-3-3b2"><text x="1927" y="2212"><tspan>2、材料中说"近来贫汉难存活"，为什么会这</tspan><tspan x="1927" dy="15.3">样说?</tspan></text></g>
<g id="b2-3-3b3"><text x="1927" y="2278">3、"闯王"为什么受到广大民众的欢喜和拥护?</text></g>
<g id="b2-3-3b4"><text x="1927" y="2329"><tspan>4、"闯王"曾经在1643年建立了自己的政权。</tspan><tspan x="1927" dy="15.3">他建立政权的地点和政权名称分别是什么?</tspan></text></g>
<g id="b2-3-3b5"><text x="1927" y="2395"><tspan>5、"闯王"的起义军攻占了北京，灭亡了明王</tspan><tspan x="1927" dy="15.3">朝，这一事件发生于何时?</tspan></text></g>
<g id="b2-3-3b6"><text x="1927" y="2470">6、"闯王"起义军最后的结局如何?</text></g>
<g id="b2-3-3b6a"><text x="2135" y="2462"><tspan>设计意图：创设情景，激发学生的兴趣，锻炼</tspan><tspan x="2135" dy="15.3">学生的语音表达能力和分析归纳问题的能力。</tspan></text></g>
<g id="b2-3-4"><text x="1724" y="2567">(四)、课堂小结</text></g>
<g id="b2-3-4a"><text x="1835" y="2528"><tspan>明朝中后期政治腐败与社会动荡的局面及影响</tspan><tspan x="1835" dy="15.3">，李自成起义爆发的原因、、过程、结果等;</tspan><tspan x="1835" dy="15.3">满洲的兴起和清兵入关。导致明末农民起义的</tspan><tspan x="1835" dy="15.3">爆发，-了明朝的统治。(设计意图：梳理知识</tspan><tspan x="1835" dy="15.3">，让学生更好的掌握基础知识，接受正确的人</tspan><tspan x="1835" dy="15.3">生观、价值观教育。)</tspan></text></g>

<!-- Branch 4 -->
<g id="b4"><text class="b" x="1406" y="3588">高中历史教案华东师范4</text></g>
<g id="b4-0"><text x="1613" y="2656">《元朝的统治》</text></g>
<g id="b4-1"><text x="1610" y="2971">一、教材分析</text></g>
<g id="b4-1-1"><text x="1713" y="2707">1、课题：《元朝的统治》</text></g>
<g id="b4-1-2"><text x="1713" y="2759"><tspan>2、本节课的地位和作用：元朝是我国历第一</tspan><tspan x="1713" dy="15.3">个由少数民族建立的统一的封建王朝。元朝的</tspan><tspan x="1713" dy="15.3">建立促进了民族融合，促进了我国统一的多民</tspan><tspan x="1713" dy="15.3">族国家的发展，基本上奠定了我国疆域的基础</tspan><tspan x="1713" dy="15.3">，元朝行省制度的建立对明、清乃至后来的政</tspan><tspan x="1713" dy="15.3">治制度产生了极为深远的影响。</tspan></text></g>
<g id="b4-1-2a"><text x="1980" y="2789"><tspan>根据历史课程标准及初一学生的认知水平，我</tspan><tspan x="1980" dy="15.3">将本节课的课程目标及重、难点分别设置为：</tspan></text></g>
<g id="b4-1-3"><text x="1713" y="3001">3、目标是：</text></g>
<g id="b4-1-3a"><text x="1811" y="2886"><tspan>①知识与能力：了解蒙古族的兴起，识记成吉</tspan><tspan x="1811" dy="15.3">思汗统一蒙古和忽必烈建立元朝并统一全国、</tspan><tspan x="1811" dy="15.3">行省制度的建立，理解元朝统一促进了民族融</tspan><tspan x="1811" dy="15.3">合;培养学生运用历史唯物主义观点客观地评</tspan><tspan x="1811" dy="15.3">价元朝统一和文天祥抗元等历史事件。</tspan></text></g>
<g id="b4-1-3b"><text x="1811" y="2997"><tspan>②过程与方法：通过收集、整理资料，从多方</tspan><tspan x="1811" dy="15.3">提供的历史资料中获取有效信息。</tspan></text></g>
<g id="b4-1-3c"><text x="1811" y="3064"><tspan>③情感、态度、价值观：通过文天祥抗元的事</tspan><tspan x="1811" dy="15.3">迹，对学生进行爱国主义教育，使其树立正确</tspan><tspan x="1811" dy="15.3">的人生观和价值观;通过元朝统一和施行行省</tspan><tspan x="1811" dy="15.3">制度的学习，使学生肯定元朝的历史地位。</tspan></text></g>
<g id="b4-1-4"><text x="1713" y="3161"><tspan>4、重点：成吉思汗统一蒙古、元朝的统一、</tspan><tspan x="1713" dy="15.3">行省制度和民族融合。</tspan></text></g>
<g id="b4-1-5"><text x="1713" y="3228"><tspan>5、难点：对元朝统一意义的认识与对文天祥</tspan><tspan x="1713" dy="15.3">抗元斗争的评价。</tspan></text></g>
<g id="b4-2"><text x="1610" y="3348">二、教法：</text></g>
<g id="b4-2-p"><text x="1701" y="3294"><tspan>根据本节课的特点及初一学生的认知水平和年</tspan><tspan x="1701" dy="15.3">龄特点，我主要采用盘锦三段六步教学模式，</tspan><tspan x="1701" dy="15.3">三段即：自学、导学、测评阶段，六步指：定</tspan><tspan x="1701" dy="15.3">向示标、自学指导、自学督查、导学释疑、合</tspan><tspan x="1701" dy="15.3">作探究和自主测评。在学生自学的基础上，我</tspan><tspan x="1701" dy="15.3">利用自制的简单课件适当点拨，使学生的视觉</tspan><tspan x="1701" dy="15.3">、听觉相结合，并密切联系旧知和现实生活实</tspan><tspan x="1701" dy="15.3">际。</tspan></text></g>
<g id="b4-3"><text x="1610" y="3511">三、学法：</text></g>
<g id="b4-3a"><text x="1701" y="3451"><tspan>1、指导学生阅读课本插图和史料，学会感知</tspan><tspan x="1701" dy="15.3">历史。引导学生注意前后知识之间的联系。</tspan></text></g>
<g id="b4-3b"><text x="1701" y="3518"><tspan>2、元朝的统一和行省制度，充分利用《元朝</tspan><tspan x="1701" dy="15.3">疆域》图，增强学生的空间地理概念，把握行</tspan><tspan x="1701" dy="15.3">省制度的三步曲(目的、内容、影响)。民族融</tspan><tspan x="1701" dy="15.3">合的表现从四个方面来把握，培养良好的思维</tspan><tspan x="1701" dy="15.3">和记忆习惯，并引导学生学会分析历史事件和</tspan><tspan x="1701" dy="15.3">历史人物的方法，掌握历史表象下的深层次的</tspan><tspan x="1701" dy="15.3">内容。</tspan></text></g>
<g id="b4-4"><text x="1610" y="4022">四、教学过程：</text></g>
<g id="b4-4a"><text x="1724" y="3659"><tspan>上课后欣赏一下元世祖的治国风采，接着复习</tspan><tspan x="1724" dy="15.3">上节课的知识，这样很自然地导入本课。然后</tspan><tspan x="1724" dy="15.3">出示本节课的自学思考题，鼓励学生结合思考</tspan><tspan x="1724" dy="15.3">题自学教材内容，有疑难的地方合作解决。在</tspan><tspan x="1724" dy="15.3">学生自学的过程中，教师深入学生中间了解学</tspan><tspan x="1724" dy="15.3">情，参与他们的讨论，解决个别学生的疑难。</tspan></text></g>
<g id="b4-4b"><text x="1724" y="3786"><tspan>(一)、"蒙古的兴起"一目，因为不是重点内容</tspan><tspan x="1724" dy="15.3">，所以只找一名学生结合能反映蒙古人生活的</tspan><tspan x="1724" dy="15.3">图片和教材内容，概述蒙古人的生活特点及蒙</tspan><tspan x="1724" dy="15.3">古社会发展的原因。</tspan></text></g>
<g id="b4-4c"><text x="1724" y="3883"><tspan>(二)、"成吉思汗统一蒙古"一目，先出示成吉</tspan><tspan x="1724" dy="15.3">思汗的画像，以加深学生的印象，并提出问题</tspan><tspan x="1724" dy="15.3">：毛主席曾赞誉他为什么?为什么给予他这么</tspan><tspan x="1724" dy="15.3">高的评价?学生很容易就会答出，接着进一步</tspan><tspan x="1724" dy="15.3">强调蒙古政权是怎样建立的，从而师生共同归</tspan><tspan x="1724" dy="15.3">纳出其主要业绩，肯定其历史地位。蒙古政权</tspan><tspan x="1724" dy="15.3">的扩张，我利用《元朝和四大汗国》图，让学</tspan><tspan x="1724" dy="15.3">生感受到当时帝国面积的庞大。</tspan></text></g>
<g id="b4-4d"><text x="1724" y="4038"><tspan>(三)、"元朝统一全国"一目，让学生结合当时</tspan><tspan x="1724" dy="15.3">的疆域图，谈谈蒙古军队是怎样一步步吞并了</tspan><tspan x="1724" dy="15.3">周边的政权，建立了元朝，又是怎样灭了南宋</tspan><tspan x="1724" dy="15.3">最终实现了全国的统一，从而理清基本线索，</tspan><tspan x="1724" dy="15.3">增强直观性。为了突破难点，我组织学生分组</tspan><tspan x="1724" dy="15.3">讨论元朝统一的意义，肯定元朝的历史地位。</tspan><tspan x="1724" dy="15.3">文天祥抗元，先出示其画像，增强感性认识，</tspan><tspan x="1724" dy="15.3">让学生讲述其抗元事迹并对其进行评价，之后</tspan><tspan x="1724" dy="15.3">找一名学生有感情地配乐朗诵《过零丁洋》全</tspan><tspan x="1724" dy="15.3">诗，对学生进行爱国主义教育，同进掀起课堂</tspan><tspan x="1724" dy="15.3">的一个高潮。</tspan></text></g>
<g id="b4-4e"><text x="1724" y="4240"><tspan>(四)、"行省制度和民族融合"一目，也是本课</tspan><tspan x="1724" dy="15.3">的一个重点。为了让学生更好地掌握，除了引</tspan><tspan x="1724" dy="15.3">导学生结合教材内容答出行省制度的内容外，</tspan><tspan x="1724" dy="15.3">还借助《元朝疆域》图，强调管辖大都及其周</tspan><tspan x="1724" dy="15.3">围的机构名称、管辖我们家乡的行省，增强学</tspan><tspan x="1724" dy="15.3">生的空间概念。为了让学生认清行省制度的影</tspan><tspan x="1724" dy="15.3">响，我提示学生要加强与当今行政制度的联系</tspan><tspan x="1724" dy="15.3">。元朝对台湾的管理，在学生回答之后，将管</tspan><tspan x="1724" dy="15.3">理机构的名称落实到地图上，并补充其隶属于</tspan><tspan x="1724" dy="15.3">福建省，启发学生回顾三国时内地与台湾往来</tspan><tspan x="1724" dy="15.3">的史实，以加强新旧知识之间的联系。对西藏</tspan><tspan x="1724" dy="15.3">的管辖，先让学生回忆唐朝与吐蕃的关系，再</tspan><tspan x="1724" dy="15.3">转向元朝时二者之间关系的变化，从而使学生</tspan><tspan x="1724" dy="15.3">认识到台湾、西藏自古以来就是中国不可分割</tspan><tspan x="1724" dy="15.3">的领土。</tspan></text></g>
<g id="b4-4e1"><text x="1992" y="4286"><tspan>民族融合的表现，师生共同归纳出四个方面，</tspan><tspan x="1992" dy="15.3">以帮助学生更好地理解元朝统一的历史意义，</tspan><tspan x="1992" dy="15.3">同时也便于记忆。</tspan></text></g>
<g id="b4-4e2"><text x="1992" y="4367"><tspan>最后，由学生小结：10-11课知识整合，在此</tspan><tspan x="1992" dy="15.3">基础上，我出示知识结构图，理顺本课线索。</tspan><tspan x="1992" dy="15.3">为了巩固本节课内容，我最后还设计了以下几</tspan><tspan x="1992" dy="15.3">个问题，非常侧重习题的"精"。</tspan></text></g>
<g id="b4-5"><text x="1610" y="4504"><tspan>五、教学手段：用课件辅助教学，以增强教学</tspan><tspan x="1610" dy="15.3">的直观性和形象性，有利于突出重点，突破难</tspan><tspan x="1610" dy="15.3">点，但注意不要喧宾夺主。</tspan></text></g>

<!-- Related -->
<g id="rel"><text class="b" x="1406" y="4823">高中历史教案华东师范相关文章：</text></g>
<g id="rel-items">
<text x="1676" y="4586">★ 新课标高中历史教案5篇</text>
<text x="1676" y="4637">★ 人民版高中历史教案5篇</text>
<text x="1676" y="4688">★ 新教程高中历史教案5篇</text>
<text x="1676" y="4740">★ 新版高一历史教案5篇</text>
<text x="1676" y="4792">★ 上海高一历史教案5篇</text>
<text x="1676" y="4843">★ 新课标人教版高中历史教案范文</text>
<text x="1676" y="4895">★ 部编版高中历史教案范文</text>
<text x="1676" y="4946">★ 人民出版社高一历史教案5篇</text>
<text x="1676" y="4999">★ 高三历史教案模板</text>
<text x="1676" y="5051"><tspan>★ 《改革迫在眉睫》教案高中历史选修一202</tspan><tspan x="1676" dy="15.3">1</tspan></text>
</g>

<g id="watermark">
<text class="w" text-anchor="middle" transform="translate(647,545) rotate(-30)">树图 shutu.cn</text>
<text class="w" text-anchor="middle" transform="translate(647,1565) rotate(-30)">树图 shutu.cn</text>
<text class="w" text-anchor="middle" transform="translate(647,2580) rotate(-30)">树图 shutu.cn</text>
<text class="w" text-anchor="middle" transform="translate(647,3560) rotate(-30)">树图 shutu.cn</text>
<text class="w" text-anchor="middle" transform="translate(647,4550) rotate(-30)">树图 shutu.cn</text>
<text class="w" text-anchor="middle" transform="translate(1925,555) rotate(-30)">树图 shutu.cn</text>
<text class="w" text-anchor="middle" transform="translate(1925,1575) rotate(-30)">树图 shutu.cn</text>
<text class="w" text-anchor="middle" transform="translate(1925,2575) rotate(-30)">树图 shutu.cn</text>
<text class="w" text-anchor="middle" transform="translate(1925,3570) rotate(-30)">树图 shutu.cn</text>
<text class="w" text-anchor="middle" transform="translate(1925,4550) rotate(-30)">树图 shutu.cn</text>
</g>
</g>
</svg>
